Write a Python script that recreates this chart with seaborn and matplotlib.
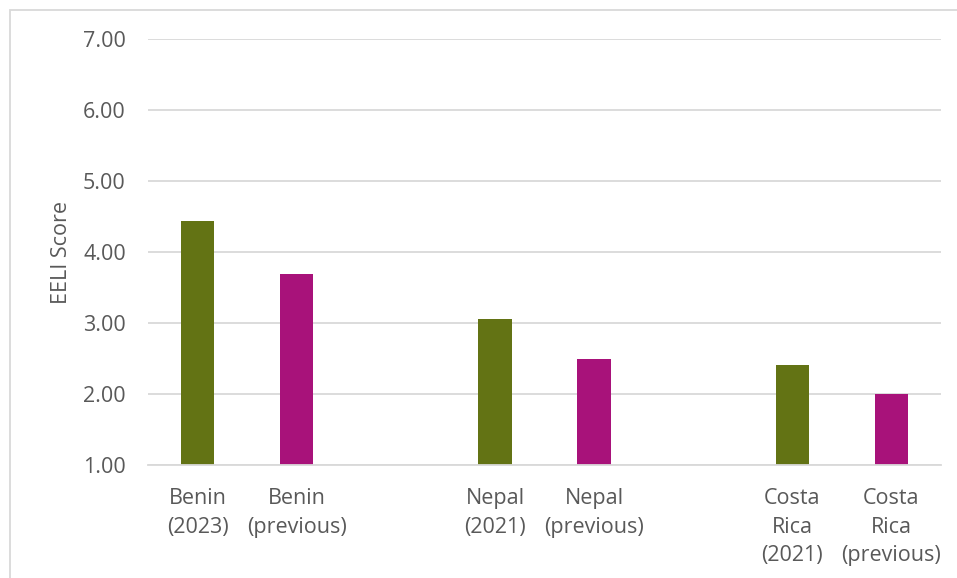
import matplotlib
matplotlib.use("Agg")
import matplotlib.pyplot as plt
import seaborn as sns
import pandas as pd
from matplotlib.patches import Rectangle

categories = ["Benin\n(2023)", "Benin\n(previous)", "Nepal\n(2021)", "Nepal\n(previous)",
              "Costa\nRica\n(2021)", "Costa\nRica\n(previous)"]
scores = [4.43, 3.69, 3.05, 2.50, 2.41, 2.00]
kinds = ["recent", "previous", "recent", "previous", "recent", "previous"]
order = [categories[0], categories[1], " ", categories[2], categories[3], "  ",
         categories[4], categories[5]]
yticks = [1, 2, 3, 4, 5, 6, 7]

GREEN = "#637314"
MAGENTA = "#A8127A"
TXT = "#595959"
FS = 15.5

sns.set_theme(style="white")
plt.rcParams["font.family"] = ["Open Sans", "DejaVu Sans"]

df = pd.DataFrame({"cat": categories, "score": scores, "kind": kinds})

fig = plt.figure(figsize=(9.57, 5.78), dpi=100)
ax = fig.add_axes([148 / 957, 1 - 465 / 578, (941 - 148) / 957, (465 - 39) / 578])

sns.barplot(data=df, x="cat", y="score", hue="kind", order=order,
            palette={"recent": GREEN, "previous": MAGENTA}, dodge=False,
            width=0.335, legend=False, ax=ax, saturation=1, linewidth=0)

ax.set_ylim(1, 7)
ax.set_xlim(-0.5, 7.5)
ax.set_yticks(yticks)
ax.set_yticklabels([f"{v:.2f}" for v in yticks])
ax.yaxis.grid(True, color="#D9D9D9", linewidth=1.3)
ax.set_axisbelow(True)
for s in ["left", "right", "top"]:
    ax.spines[s].set_visible(False)
ax.spines["bottom"].set_color("#D9D9D9")
ax.spines["bottom"].set_linewidth(1.3)
ax.tick_params(axis="y", length=0, pad=16, labelsize=FS, labelcolor=TXT)
ax.tick_params(axis="x", length=0, pad=16.5, labelsize=FS, labelcolor=TXT)
for lab in ax.get_xticklabels():
    lab.set_linespacing(1.48)
ax.set_xlabel("")
ax.set_ylabel("EELI Score", fontsize=FS, color=TXT, labelpad=7.5)

fig.patches.append(Rectangle((9.5 / 957, -0.1), 1.2, 1 - 9.5 / 578 + 0.1,
                             transform=fig.transFigure, fill=False,
                             edgecolor="#D9D9D9", linewidth=1.3))

fig.savefig("out.png", dpi=100)
